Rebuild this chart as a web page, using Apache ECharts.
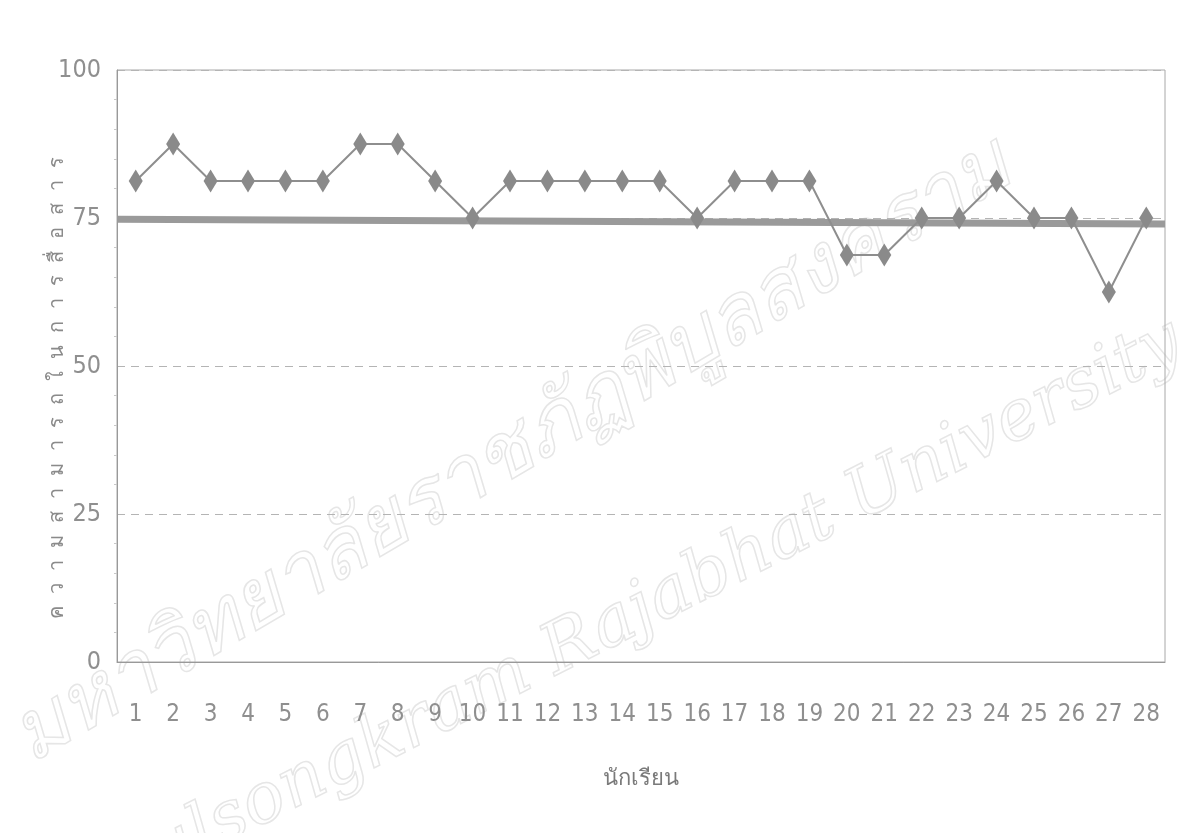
<!DOCTYPE html>
<html>
<head>
<meta charset="utf-8">
<script src="https://cdn.jsdelivr.net/npm/echarts@6/dist/echarts.min.js"></script>
<style>
html,body{margin:0;padding:0;background:#fff;}
#chart{width:1199px;height:833px;}
</style>
</head>
<body>
<div id="chart"></div>
<script>
// ---- data ----
const categories = ['1','2','3','4','5','6','7','8','9','10','11','12','13','14','15','16','17','18','19','20','21','22','23','24','25','26','27','28'];
const scores = [81.25, 87.5, 81.25, 81.25, 81.25, 81.25, 87.5, 87.5, 81.25, 75, 81.25, 81.25, 81.25, 81.25, 81.25, 75, 81.25, 81.25, 81.25, 68.75, 68.75, 75, 75, 81.25, 75, 75, 62.5, 75];
const criterionX = [0, 1];
const criterionY = [74.8, 74.0];
const yTicks = { min: 0, max: 100, interval: 25 };
const yTitleTokens = ['ค','ว','า','ม','ส','า','ม','า','ร','ถ','ใ','น','ก','า','ร','สื่','อ','ส','า','ร'];
const xTitle = 'นักเรียน';
const watermark1 = 'มหาวิทยาลัยราชภัฏพิบูลสงคราม';
const watermark2 = 'Pibulsongkram Rajabhat University';

const narrow = '"Liberation Sans Narrow", "DejaVu Sans Condensed", sans-serif';
const chart = echarts.init(document.getElementById('chart'), null, {renderer: 'canvas'});

chart.setOption({
  backgroundColor: '#ffffff',
  animation: false,
  graphic: [
    {
      type: 'text', z: -10, x: 512, y: 452, rotation: 0.535,
      style: { text: watermark1, font: 'italic 82px "Noto Sans", "DejaVu Sans", sans-serif',
               fill: 'rgba(0,0,0,0)', stroke: '#e6e6e6', lineWidth: 1.5,
               textAlign: 'center', textVerticalAlign: 'middle' }
    },
    {
      type: 'text', z: -10, x: 615, y: 625, rotation: 0.47,
      style: { text: watermark2, font: 'italic 70px "DejaVu Serif", "Liberation Serif", serif',
               fill: 'rgba(0,0,0,0)', stroke: '#e6e6e6', lineWidth: 1.5,
               textAlign: 'center', textVerticalAlign: 'middle' }
    }
  ],
  grid: { left: 117, right: 34, top: 70, bottom: 171, show: true, borderColor: '#a8a8a8', borderWidth: 1 },
  xAxis: [
    {
      type: 'category',
      data: categories,
      boundaryGap: true,
      name: xTitle,
      nameLocation: 'middle',
      nameGap: 106,
      nameTextStyle: { color: '#7a7a7a', fontSize: 22, fontFamily: '"Noto Sans", sans-serif' },
      axisLine: { show: true, lineStyle: { color: '#999', width: 1 } },
      axisTick: { show: false },
      axisLabel: { color: '#8f8f8f', fontSize: 24, fontFamily: narrow, margin: 41, interval: 0 },
      splitLine: { show: false }
    },
    {
      type: 'value', min: 0, max: 1, show: false
    }
  ],
  yAxis: {
    type: 'value',
    min: yTicks.min,
    max: yTicks.max,
    interval: yTicks.interval,
    name: yTitleTokens.join('\u2002\u200A'),
    nameLocation: 'middle',
    nameGap: 50,
    nameMoveOverlap: false,
    nameRotate: 90,
    nameTextStyle: { color: '#8a8a8a', fontSize: 20, fontFamily: '"Noto Sans", sans-serif', padding: [0, 44, 0, 0] },
    axisLine: { show: true, lineStyle: { color: '#999', width: 1 } },
    axisTick: { show: false },
    minorTick: { show: true, splitNumber: 5, length: 3, lineStyle: { color: '#c8c8c8' } },
    axisLabel: { color: '#8f8f8f', fontSize: 25, fontFamily: narrow, margin: 16 },
    splitLine: { show: true, lineStyle: { color: '#b4b4b4', type: [8, 6], width: 1 } }
  },
  series: [
    {
      name: 'criterion',
      type: 'line',
      xAxisIndex: 1,
      data: criterionX.map((x, i) => [x, criterionY[i]]),
      symbol: 'none',
      lineStyle: { color: '#9a9a9a', width: 7 },
      z: 2
    },
    {
      name: 'scores',
      type: 'line',
      data: scores,
      symbol: 'diamond',
      symbolSize: [14, 23],
      itemStyle: { color: '#8a8a8a' },
      lineStyle: { color: '#8e8e8e', width: 2 },
      z: 3
    }
  ]
});
</script>
</body>
</html>
